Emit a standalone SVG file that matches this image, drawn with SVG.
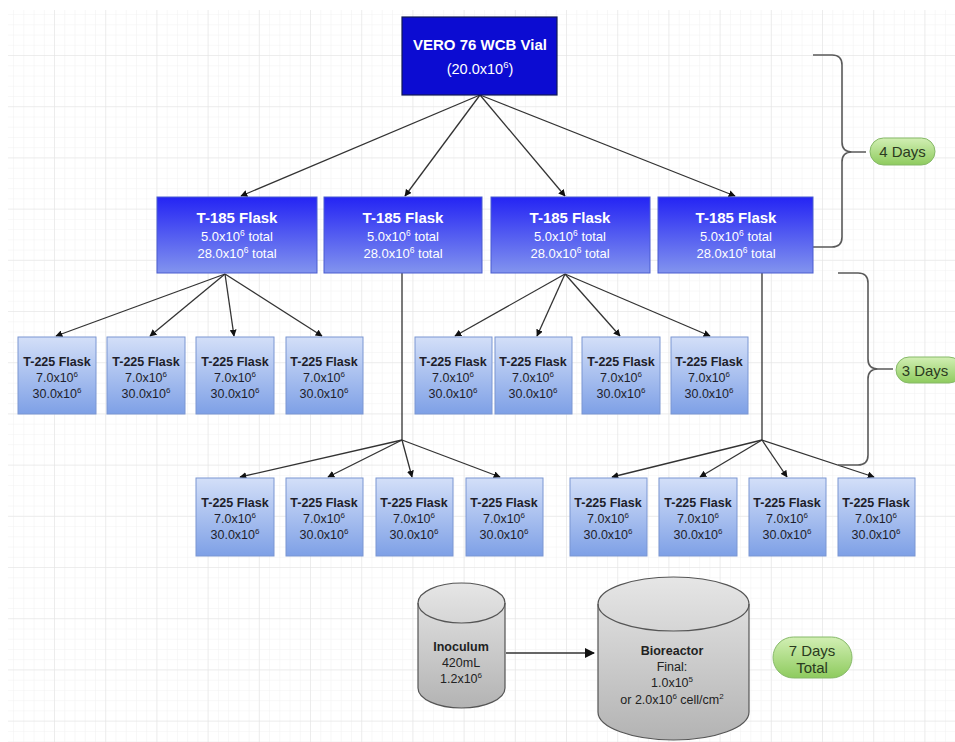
<svg xmlns="http://www.w3.org/2000/svg" width="955" height="742" viewBox="0 0 955 742">
<defs>
<pattern id="minor" patternUnits="userSpaceOnUse" x="3.8" y="4.8" width="10.24" height="10.24">
<path d="M10.24,0 V10.24 M0,10.24 H10.24" fill="none" stroke="#f1f1f1" stroke-width="1"/>
</pattern>
<pattern id="major" patternUnits="userSpaceOnUse" x="3.8" y="4.8" width="51.2" height="51.2">
<path d="M51.2,0 V51.2 M0,51.2 H51.2" fill="none" stroke="#e2e2e2" stroke-width="1"/>
</pattern>
<linearGradient id="g185" x1="0" y1="0" x2="0" y2="1">
<stop offset="0" stop-color="#2424f4"/>
<stop offset="1" stop-color="#8294ee"/>
</linearGradient>
<linearGradient id="g225" x1="0" y1="0" x2="0" y2="1">
<stop offset="0" stop-color="#d3dff8"/>
<stop offset="1" stop-color="#7ea0e6"/>
</linearGradient>
<linearGradient id="ggreen" x1="0" y1="0" x2="0" y2="1">
<stop offset="0" stop-color="#d2efb4"/>
<stop offset="1" stop-color="#8ecb5e"/>
</linearGradient>
<linearGradient id="ggray" x1="0" y1="0" x2="0" y2="1">
<stop offset="0" stop-color="#e6e6e6"/>
<stop offset="1" stop-color="#b3b3b3"/>
</linearGradient>
<marker id="arr" viewBox="0 0 10 10" refX="9" refY="5" markerWidth="7" markerHeight="7" orient="auto" markerUnits="userSpaceOnUse">
<path d="M0,0 L10,5 L0,10 Z" fill="#111"/>
</marker>
<marker id="arr2" viewBox="0 0 10 10" refX="9" refY="5" markerWidth="10" markerHeight="10" orient="auto" markerUnits="userSpaceOnUse">
<path d="M0,0 L10,5 L0,10 Z" fill="#111"/>
</marker>
</defs>
<style>
text{font-family:"Liberation Sans",Arial,sans-serif;text-anchor:middle}
.n185{fill:url(#g185);stroke:#4a5ccf;stroke-width:1}
.n225{fill:url(#g225);stroke:#7b96d2;stroke-width:1}
.t185b{font-size:15px;font-weight:bold;fill:#fff}
.t185{font-size:13px;fill:#fff}
.tvial{font-size:14.5px;fill:#fff}
.t225b{font-size:12.5px;font-weight:bold;fill:#1e1e2a}
.t225{font-size:12.5px;fill:#1e1e2a}
.conn{fill:none;stroke:#333;stroke-width:1.3}
.brace{fill:none;stroke:#5a5a5a;stroke-width:1.6}
.pill{fill:url(#ggreen);stroke:#86b968;stroke-width:1}
.pt{font-size:15px;fill:#2a3a20}
.cyl{fill:url(#ggray);stroke:#555;stroke-width:1.2}
.ct{font-size:12.5px;fill:#222}
.ctb{font-size:12.5px;font-weight:bold;fill:#222}
</style>
<rect width="955" height="742" fill="#fff"/>
<rect x="8" y="10" width="947" height="732" fill="url(#minor)"/>
<rect x="8" y="10" width="947" height="732" fill="url(#major)"/>

<g id="connectors">
<path class="conn" marker-end="url(#arr)" d="M480,95 L241,196"/>
<path class="conn" marker-end="url(#arr)" d="M480,95 L405,196"/>
<path class="conn" marker-end="url(#arr)" d="M480,95 L565,196"/>
<path class="conn" marker-end="url(#arr)" d="M480,95 L735,196"/>
<path class="conn" marker-end="url(#arr)" d="M225,274 L56,336"/>
<path class="conn" marker-end="url(#arr)" d="M225,274 L150,336"/>
<path class="conn" marker-end="url(#arr)" d="M225,274 L234,336"/>
<path class="conn" marker-end="url(#arr)" d="M225,274 L322,336"/>
<path class="conn" marker-end="url(#arr)" d="M565,274 L455,336"/>
<path class="conn" marker-end="url(#arr)" d="M565,274 L537,336"/>
<path class="conn" marker-end="url(#arr)" d="M565,274 L620,336"/>
<path class="conn" marker-end="url(#arr)" d="M565,274 L710,336"/>
<path class="conn" d="M402,273 V440"/>
<path class="conn" marker-end="url(#arr)" d="M402,440 L240,477"/>
<path class="conn" marker-end="url(#arr)" d="M402,440 L328,477"/>
<path class="conn" marker-end="url(#arr)" d="M402,440 L412,477"/>
<path class="conn" marker-end="url(#arr)" d="M402,440 L500,477"/>
<path class="conn" d="M762,273 V440"/>
<path class="conn" marker-end="url(#arr)" d="M762,440 L612,477"/>
<path class="conn" marker-end="url(#arr)" d="M762,440 L700,477"/>
<path class="conn" marker-end="url(#arr)" d="M762,440 L787,477"/>
<path class="conn" marker-end="url(#arr)" d="M762,440 L874,477"/>
<path class="conn" marker-end="url(#arr2)" stroke-width="1.6" d="M506,653 L594,653"/>
<path class="brace" d="M813,55 H832 Q842,55 842,65 V142 Q842,152 852,152 H866 M852,152 Q842,152 842,162 V237 Q842,247 832,247 H813"/>
<path class="brace" d="M838,273 H858 Q868,273 868,283 V359 Q868,369 878,369 H893 M878,369 Q868,369 868,379 V455 Q868,465 858,465 H838"/>
</g>

<g id="vial">
<rect x="402" y="17" width="155" height="78" fill="#0c0cd2" stroke="#111a55" stroke-width="1.2"/>
<text x="480" y="50" class="t185b">VERO 76 WCB Vial</text>
<text x="480" y="74" class="tvial">(20.0x10<tspan font-size="9.5" dy="-6">6</tspan><tspan dy="6">)</tspan></text>
</g>

<g id="t185-1">
<rect class="n185" x="157" y="197" width="160" height="76"/>
<text x="237" y="223" class="t185b">T-185 Flask</text>
<text x="237" y="241" class="t185">5.0x10<tspan font-size="8.5" dy="-5">6</tspan><tspan dy="5"> total</tspan></text>
<text x="237" y="258" class="t185">28.0x10<tspan font-size="8.5" dy="-5">6</tspan><tspan dy="5"> total</tspan></text>
</g>
<g id="t185-2">
<rect class="n185" x="324" y="197" width="158" height="76"/>
<text x="403" y="223" class="t185b">T-185 Flask</text>
<text x="403" y="241" class="t185">5.0x10<tspan font-size="8.5" dy="-5">6</tspan><tspan dy="5"> total</tspan></text>
<text x="403" y="258" class="t185">28.0x10<tspan font-size="8.5" dy="-5">6</tspan><tspan dy="5"> total</tspan></text>
</g>
<g id="t185-3">
<rect class="n185" x="491" y="197" width="159" height="76"/>
<text x="570" y="223" class="t185b">T-185 Flask</text>
<text x="570" y="241" class="t185">5.0x10<tspan font-size="8.5" dy="-5">6</tspan><tspan dy="5"> total</tspan></text>
<text x="570" y="258" class="t185">28.0x10<tspan font-size="8.5" dy="-5">6</tspan><tspan dy="5"> total</tspan></text>
</g>
<g id="t185-4">
<rect class="n185" x="658" y="197" width="155" height="76"/>
<text x="736" y="223" class="t185b">T-185 Flask</text>
<text x="736" y="241" class="t185">5.0x10<tspan font-size="8.5" dy="-5">6</tspan><tspan dy="5"> total</tspan></text>
<text x="736" y="258" class="t185">28.0x10<tspan font-size="8.5" dy="-5">6</tspan><tspan dy="5"> total</tspan></text>
</g>

<g id="t225-a1"><rect class="n225" x="18" y="337" width="78" height="77"/><text x="57" y="366" class="t225b">T-225 Flask</text><text x="57" y="382" class="t225">7.0x10<tspan font-size="8" dy="-5">6</tspan></text><text x="57" y="398" class="t225">30.0x10<tspan font-size="8" dy="-5">6</tspan></text></g>
<g id="t225-a2"><rect class="n225" x="107" y="337" width="78" height="77"/><text x="146" y="366" class="t225b">T-225 Flask</text><text x="146" y="382" class="t225">7.0x10<tspan font-size="8" dy="-5">6</tspan></text><text x="146" y="398" class="t225">30.0x10<tspan font-size="8" dy="-5">6</tspan></text></g>
<g id="t225-a3"><rect class="n225" x="196" y="337" width="78" height="77"/><text x="235" y="366" class="t225b">T-225 Flask</text><text x="235" y="382" class="t225">7.0x10<tspan font-size="8" dy="-5">6</tspan></text><text x="235" y="398" class="t225">30.0x10<tspan font-size="8" dy="-5">6</tspan></text></g>
<g id="t225-a4"><rect class="n225" x="286" y="337" width="77" height="77"/><text x="324" y="366" class="t225b">T-225 Flask</text><text x="324" y="382" class="t225">7.0x10<tspan font-size="8" dy="-5">6</tspan></text><text x="324" y="398" class="t225">30.0x10<tspan font-size="8" dy="-5">6</tspan></text></g>
<g id="t225-b1"><rect class="n225" x="415" y="337" width="77" height="77"/><text x="453" y="366" class="t225b">T-225 Flask</text><text x="453" y="382" class="t225">7.0x10<tspan font-size="8" dy="-5">6</tspan></text><text x="453" y="398" class="t225">30.0x10<tspan font-size="8" dy="-5">6</tspan></text></g>
<g id="t225-b2"><rect class="n225" x="495" y="337" width="77" height="77"/><text x="533" y="366" class="t225b">T-225 Flask</text><text x="533" y="382" class="t225">7.0x10<tspan font-size="8" dy="-5">6</tspan></text><text x="533" y="398" class="t225">30.0x10<tspan font-size="8" dy="-5">6</tspan></text></g>
<g id="t225-b3"><rect class="n225" x="582" y="337" width="78" height="77"/><text x="621" y="366" class="t225b">T-225 Flask</text><text x="621" y="382" class="t225">7.0x10<tspan font-size="8" dy="-5">6</tspan></text><text x="621" y="398" class="t225">30.0x10<tspan font-size="8" dy="-5">6</tspan></text></g>
<g id="t225-b4"><rect class="n225" x="671" y="337" width="77" height="77"/><text x="709" y="366" class="t225b">T-225 Flask</text><text x="709" y="382" class="t225">7.0x10<tspan font-size="8" dy="-5">6</tspan></text><text x="709" y="398" class="t225">30.0x10<tspan font-size="8" dy="-5">6</tspan></text></g>

<g id="t225-c1"><rect class="n225" x="196" y="478" width="78" height="78"/><text x="235" y="507" class="t225b">T-225 Flask</text><text x="235" y="523" class="t225">7.0x10<tspan font-size="8" dy="-5">6</tspan></text><text x="235" y="539" class="t225">30.0x10<tspan font-size="8" dy="-5">6</tspan></text></g>
<g id="t225-c2"><rect class="n225" x="286" y="478" width="77" height="78"/><text x="324" y="507" class="t225b">T-225 Flask</text><text x="324" y="523" class="t225">7.0x10<tspan font-size="8" dy="-5">6</tspan></text><text x="324" y="539" class="t225">30.0x10<tspan font-size="8" dy="-5">6</tspan></text></g>
<g id="t225-c3"><rect class="n225" x="376" y="478" width="77" height="78"/><text x="414" y="507" class="t225b">T-225 Flask</text><text x="414" y="523" class="t225">7.0x10<tspan font-size="8" dy="-5">6</tspan></text><text x="414" y="539" class="t225">30.0x10<tspan font-size="8" dy="-5">6</tspan></text></g>
<g id="t225-c4"><rect class="n225" x="466" y="478" width="77" height="78"/><text x="504" y="507" class="t225b">T-225 Flask</text><text x="504" y="523" class="t225">7.0x10<tspan font-size="8" dy="-5">6</tspan></text><text x="504" y="539" class="t225">30.0x10<tspan font-size="8" dy="-5">6</tspan></text></g>
<g id="t225-d1"><rect class="n225" x="570" y="478" width="77" height="78"/><text x="608" y="507" class="t225b">T-225 Flask</text><text x="608" y="523" class="t225">7.0x10<tspan font-size="8" dy="-5">6</tspan></text><text x="608" y="539" class="t225">30.0x10<tspan font-size="8" dy="-5">6</tspan></text></g>
<g id="t225-d2"><rect class="n225" x="659" y="478" width="78" height="78"/><text x="698" y="507" class="t225b">T-225 Flask</text><text x="698" y="523" class="t225">7.0x10<tspan font-size="8" dy="-5">6</tspan></text><text x="698" y="539" class="t225">30.0x10<tspan font-size="8" dy="-5">6</tspan></text></g>
<g id="t225-d3"><rect class="n225" x="749" y="478" width="77" height="78"/><text x="787" y="507" class="t225b">T-225 Flask</text><text x="787" y="523" class="t225">7.0x10<tspan font-size="8" dy="-5">6</tspan></text><text x="787" y="539" class="t225">30.0x10<tspan font-size="8" dy="-5">6</tspan></text></g>
<g id="t225-d4"><rect class="n225" x="838" y="478" width="77" height="78"/><text x="876" y="507" class="t225b">T-225 Flask</text><text x="876" y="523" class="t225">7.0x10<tspan font-size="8" dy="-5">6</tspan></text><text x="876" y="539" class="t225">30.0x10<tspan font-size="8" dy="-5">6</tspan></text></g>

<g id="label-4days"><rect class="pill" x="870" y="138" width="65" height="27" rx="13.5"/><text x="902.5" y="157" class="pt">4 Days</text></g>
<g id="label-3days"><rect class="pill" x="896" y="357" width="66" height="26" rx="13"/><text x="925" y="376" class="pt">3 Days</text></g>
<g id="label-7days"><rect class="pill" x="773" y="637" width="79" height="41" rx="20.5"/><text x="812" y="656" class="pt">7 Days</text><text x="812" y="673" class="pt">Total</text></g>

<g id="inoculum">
<path class="cyl" d="M418,603 A43.5,20 0 0,1 505,603 V688 A43.5,20 0 0,1 418,688 Z"/>
<path fill="none" stroke="#555" stroke-width="1.2" d="M418,603 A43.5,20 0 0,0 505,603"/>
<text x="461" y="651" class="ctb">Inoculum</text>
<text x="461" y="667" class="ct">420mL</text>
<text x="461" y="683" class="ct">1.2x10<tspan font-size="8" dy="-5">6</tspan></text>
</g>

<g id="bioreactor">
<path class="cyl" d="M598,604 A75.5,27 0 0,1 749,604 V712 A75.5,28 0 0,1 598,712 Z"/>
<path fill="none" stroke="#555" stroke-width="1.2" d="M598,604 A75.5,27 0 0,0 749,604"/>
<text x="672" y="655" class="ctb">Bioreactor</text>
<text x="672" y="671" class="ct">Final:</text>
<text x="672" y="687" class="ct">1.0x10<tspan font-size="8" dy="-5">5</tspan></text>
<text x="672" y="704" class="ct">or 2.0x10<tspan font-size="8" dy="-5">6</tspan><tspan dy="5"> cell/cm</tspan><tspan font-size="8" dy="-5">2</tspan></text>
</g>
</svg>
